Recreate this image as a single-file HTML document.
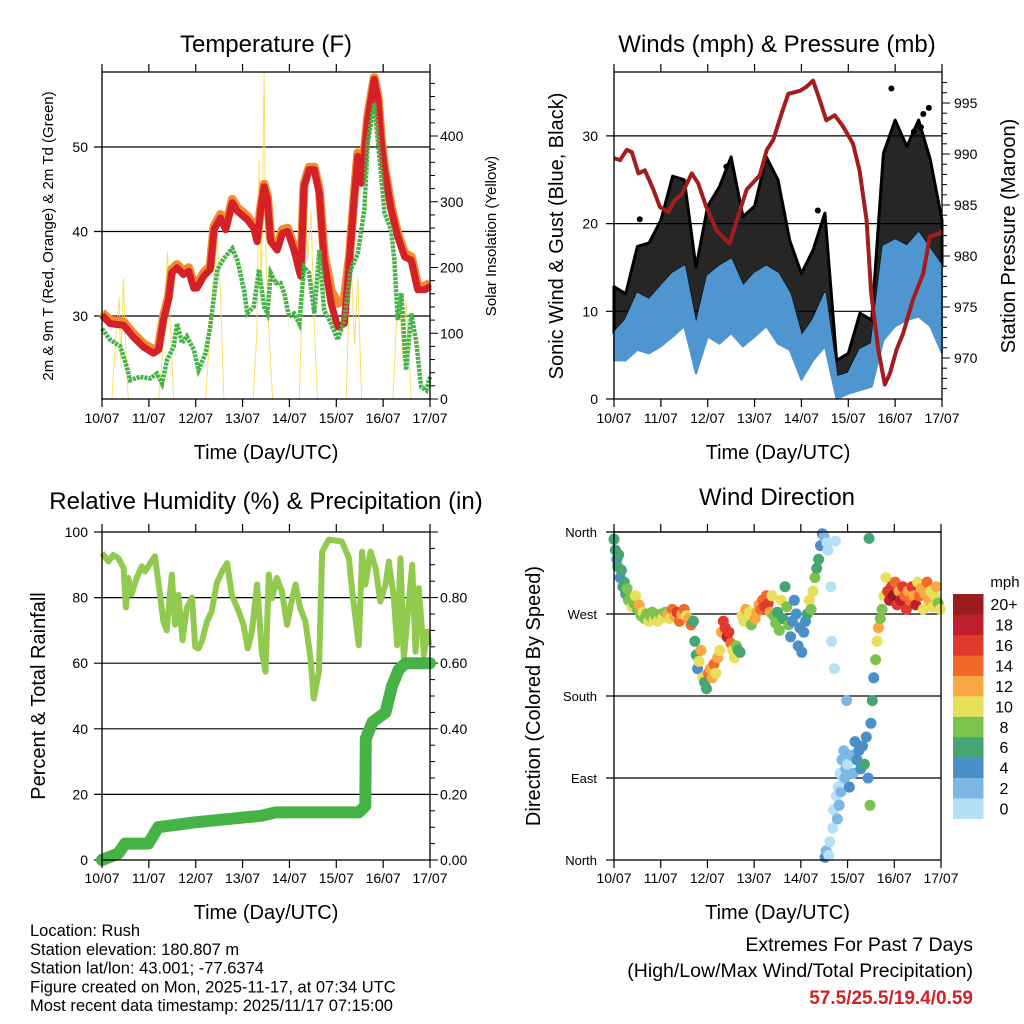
<!DOCTYPE html>
<html><head><meta charset="utf-8"><style>
html,body{margin:0;padding:0;background:#fff}
svg{display:block;font-family:"Liberation Sans",Arial,sans-serif}
</style></head><body>
<svg id="fig" width="1024" height="1024" viewBox="0 0 1024 1024" xmlns="http://www.w3.org/2000/svg"></svg>
<script>
// ---------- DATA ----------
const dayLabels = ["10/07","11/07","12/07","13/07","14/07","15/07","16/07","17/07"];
const tempT = [0,0.17,0.46,0.67,0.89,1.1,1.21,1.31,1.42,1.49,1.6,1.74,1.85,1.96,2.03,2.17,2.31,2.39,2.53,2.64,2.78,2.89,3.1,3.24,3.31,3.39,3.46,3.53,3.6,3.74,3.85,3.96,4.1,4.24,4.31,4.42,4.53,4.64,4.74,4.89,5.03,5.17,5.28,5.39,5.46,5.54,5.67,5.81,5.89,5.96,6.03,6.17,6.31,6.46,6.6,6.74,6.89,7.0];
const temp2m = [30.1,29.1,28.9,27.5,26.3,25.6,26.0,29.5,31.9,35.1,35.7,34.9,35.3,33.3,33.3,34.7,35.5,40.2,41.6,40.2,43.4,42.4,41.4,40.4,38.8,42.6,45.3,43.8,38.8,37.8,39.8,40.0,37.8,34.7,45.3,47.3,47.3,44.5,36.6,31.5,28.7,29.1,36.6,44.5,48.9,45.7,53.2,58.0,55.6,50.5,47.3,42.6,39.4,37.0,36.6,33.1,33.1,33.5];
const temp9m = [30.4,29.5,29.3,27.9,26.7,26.0,26.4,29.9,32.3,35.5,36.1,35.3,35.7,33.7,33.7,35.1,35.9,40.6,42.0,40.6,43.8,42.8,41.8,40.8,39.2,43.0,45.6,44.2,39.2,38.2,40.2,40.4,38.2,35.1,45.6,47.6,47.6,44.9,37.4,33.0,31.5,32.0,37.0,44.9,49.3,46.1,53.6,58.2,56.0,50.9,47.7,43.0,39.8,37.4,37.0,33.5,33.5,33.9];
const dewT = [0,0.17,0.39,0.53,0.6,0.81,1.03,1.17,1.28,1.39,1.53,1.6,1.71,1.81,1.96,2.06,2.21,2.31,2.46,2.6,2.78,2.89,3.03,3.1,3.24,3.35,3.46,3.53,3.6,3.71,3.81,3.89,3.99,4.1,4.21,4.31,4.42,4.53,4.64,4.74,4.89,5.03,5.17,5.31,5.46,5.6,5.67,5.81,5.96,6.03,6.17,6.24,6.31,6.39,6.49,6.6,6.71,6.81,6.92,7.0];
const dewV = [28.5,27.2,26.4,24.0,22.4,22.8,22.6,23.2,22.0,24.8,26.4,29.1,26.8,27.6,26.0,23.6,25.6,28.7,35.5,36.8,38.0,36.6,33.1,30.3,31.1,35.5,31.1,30.3,35.1,33.9,33.9,32.7,29.9,30.3,29.1,35.8,35.1,30.3,37.8,30.7,29.1,27.2,29.5,35.5,37.4,42.6,50.5,55.2,46.5,42.2,40.2,36.6,29.5,32.7,23.6,30.3,26.8,21.6,21.2,22.8];
const solarT = [0,0.21,0.31,0.37,0.4,0.46,0.49,0.56,1.21,1.28,1.35,1.4,1.46,1.53,2.21,2.31,2.4,2.46,2.53,2.6,3.23,3.31,3.35,3.4,3.46,3.5,3.56,3.64,4.21,4.28,4.33,4.39,4.46,4.53,4.6,5.21,5.28,5.31,5.39,5.46,5.54,6.21,6.28,6.35,6.42,6.49,6.6,7.0];
const solarV = [0,0,110,155,60,185,100,0,0,60,150,223,110,0,0,110,210,241,160,0,0,110,362,160,496,210,110,0,0,160,317,210,286,110,0,0,160,216,84,185,0,0,110,160,60,150,0,0];
const windT = [0,0.25,0.5,0.75,1,1.25,1.5,1.75,2,2.25,2.5,2.75,3,3.25,3.5,3.75,4,4.25,4.5,4.75,5,5.25,5.5,5.75,6,6.25,6.5,6.75,7];
const windLo = [4.4,4.4,5.6,5.2,6,7.1,8.3,2.9,7.1,6.3,7.5,6,7.1,8.3,6.3,5.6,2.2,4.4,6,0,0.6,1,1.4,6.7,8.3,9,9.4,8.3,5.2];
const windHi = [7.5,9,12,11.3,12.8,14.3,15.1,8.3,14,15.1,15.9,12.8,14.3,15.1,14.3,12,7.1,9,12,2.5,2.9,5.6,6.3,17.4,18.1,17.4,18.9,17,15.1];
const gustHi = [12.8,12,17.4,17.8,20.4,25.4,25,15,22,24.2,27.6,20.8,22,27.6,25,18.1,14.3,17,21.2,4.4,5.2,9.8,9,28,31.8,28.8,31.8,27.3,20.4];
const gustOutT = [5.92,6.72,6.6,6.4,6.55,0.55,2.4,4.35];
const gustOutV = [35.4,33.2,32.5,30.5,31.0,20.5,26.5,21.5];
const presT = [0,0.13,0.27,0.38,0.52,0.66,0.84,0.98,1.16,1.3,1.44,1.66,1.8,1.97,2.19,2.47,2.62,2.83,3.11,3.26,3.4,3.58,3.72,3.97,4.11,4.25,4.39,4.53,4.71,4.89,5.1,5.24,5.39,5.49,5.64,5.78,5.89,6.03,6.17,6.38,6.6,6.74,6.95,7.0];
const presV = [989.6,989.4,990.4,990.2,988.1,988.4,986.5,984.8,984.3,985.5,986.0,988.1,987.1,984.8,982.5,981.2,983.5,986.5,987.9,990.4,991.4,994.0,995.9,996.2,996.6,997.2,995.3,993.3,993.8,992.7,991.0,988.4,983.5,976.3,970.8,967.4,968.5,970.8,972.4,975.7,978.3,981.9,982.2,982.5];
const rhT = [0,0.14,0.24,0.35,0.46,0.51,0.56,0.63,0.74,0.85,0.92,1.03,1.13,1.24,1.31,1.38,1.49,1.56,1.63,1.72,1.81,1.92,1.99,2.06,2.13,2.24,2.34,2.45,2.56,2.67,2.77,2.92,3.02,3.11,3.2,3.31,3.41,3.49,3.56,3.63,3.73,3.84,3.95,4.06,4.13,4.23,4.34,4.45,4.52,4.63,4.7,4.84,5.12,5.27,5.34,5.48,5.55,5.62,5.73,5.84,5.94,6.05,6.12,6.23,6.3,6.37,6.44,6.55,6.62,6.69,6.76,6.87,6.94,6.98];
const rhV = [93.6,91,93,92,89,77,86,81,86,89.5,88,90.5,92.6,80.8,72.7,70,87,71.7,80.8,67,76.8,80,65,64.5,66.6,72.7,75.7,84.4,88,90.5,80.8,75.7,71.7,64.5,69.6,84,63.5,57.4,87,79.8,86,81.9,71.7,79.8,84,76.8,72.7,61.5,49.2,57.4,94,97.7,97.1,92,81.9,65.5,94,84,94,89,78.8,84,91,79.8,65.5,92,61.5,78.8,90,63.5,82.9,62.5,69.6,65.5];
const rainT = [0,0.35,0.49,0.99,1.2,1.99,3.41,3.7,5.48,5.62,5.63,5.77,6.05,6.19,6.33,6.48,7.0];
const rainV = [0,0.02,0.05,0.05,0.10,0.115,0.135,0.145,0.145,0.165,0.37,0.42,0.45,0.53,0.58,0.60,0.60];
const dirT = [0,0.03,0.06,0.08,0.10,0.13,0.16,0.19,0.22,0.25,0.28,0.31,0.35,0.38,0.42,0.46,0.50,0.54,0.58,0.62,0.66,0.70,0.74,0.78,0.82,0.86,0.90,0.94,1.00,1.05,1.10,1.15,1.20,1.25,1.30,1.35,1.40,1.45,1.50,1.55,1.60,1.65,1.70,1.73,1.76,1.79,1.82,1.86,1.90,1.94,1.98,2.02,2.06,2.10,2.14,2.18,2.22,2.26,2.30,2.34,2.38,2.42,2.46,2.50,2.54,2.58,2.62,2.66,2.70,2.74,2.78,2.82,2.86,2.90,2.94,2.98,3.02,3.06,3.10,3.14,3.18,3.22,3.26,3.30,3.34,3.38,3.42,3.46,3.50,3.54,3.58,3.62,3.66,3.70,3.74,3.78,3.82,3.86,3.90,3.94,3.98,4.02,4.06,4.10,4.14,4.18,4.22,4.26,4.30,4.34,4.38,4.42,4.46,4.50,4.52,4.54,4.56,4.58,4.60,4.62,4.64,4.66,4.68,4.70,4.72,4.74,4.76,4.78,4.80,4.82,4.84,4.86,4.88,4.90,4.92,4.94,4.96,4.98,5.00,5.04,5.08,5.12,5.16,5.20,5.24,5.28,5.32,5.36,5.40,5.44,5.46,5.48,5.50,5.53,5.56,5.60,5.63,5.66,5.70,5.74,5.78,5.82,5.86,5.90,5.94,5.98,6.02,6.06,6.10,6.14,6.18,6.22,6.26,6.30,6.34,6.38,6.42,6.46,6.50,6.54,6.58,6.62,6.66,6.70,6.74,6.78,6.82,6.86,6.90,6.94,6.98];
const dirD = [352,340,330,322,335,310,318,300,305,292,298,285,288,278,282,290,275,280,268,272,265,270,262,268,272,264,268,262,270,266,272,270,265,275,268,272,262,270,275,268,265,258,262,240,225,210,218,230,200,195,188,205,210,200,215,205,222,230,250,262,255,245,250,238,230,222,235,230,228,268,262,275,265,272,258,270,265,272,280,275,285,278,290,282,272,290,268,260,272,252,285,265,300,278,258,245,262,285,270,235,255,228,250,262,270,285,275,295,310,320,330,345,358,355,3,10,348,340,5,20,300,240,35,55,210,350,70,45,80,60,95,75,110,85,120,90,100,175,105,80,115,95,130,110,120,100,125,105,135,90,353,60,150,175,200,220,240,255,265,275,290,310,295,285,300,290,305,280,295,285,300,290,275,295,285,300,290,280,305,290,298,275,292,305,285,295,278,290,300,282,275];
const dirS = [6,6,4,6,6,4,6,6,6,6,8,8,8,10,8,10,8,12,8,10,8,8,10,8,8,10,8,10,8,10,8,12,10,14,12,16,14,12,14,10,12,14,6,6,6,4,10,12,10,6,6,14,12,12,14,10,12,10,12,16,16,18,16,14,10,10,8,6,6,10,10,12,10,10,8,10,12,12,12,14,14,16,14,16,12,10,8,8,6,8,10,6,6,8,8,4,4,4,4,4,4,4,4,4,6,10,8,10,8,6,6,4,4,2,4,2,0,0,0,0,0,0,0,0,0,0,0,2,0,2,0,2,2,0,2,2,2,2,0,4,2,2,4,4,4,4,4,6,4,4,6,8,4,6,4,8,10,12,8,8,10,10,16,18,16,20,14,16,12,18,16,14,16,12,14,16,12,18,10,14,12,10,12,14,12,10,10,10,12,8,10,12];
const speedColors = ["#b6e0f7","#7db8e4","#4a8fc8","#45a673","#7bc24e","#e8e05a","#f9a944","#f26a2b","#e03a2c","#bf1e2d","#9b1c1f"];
const speedLabels = ["0","2","4","6","8","10","12","14","16","18","20+"];

// ---------- HELPERS ----------
const NS="http://www.w3.org/2000/svg";
const svg=document.getElementById('fig');
function mk(tag,attrs,parent){const e=document.createElementNS(NS,tag);for(const k in attrs)e.setAttribute(k,attrs[k]);(parent||svg).appendChild(e);return e;}
function txt(x,y,s,size,anchor,parent,extra){const e=mk('text',Object.assign({x:x,y:y,'font-size':size,'text-anchor':anchor||'middle',fill:'#000'},extra||{}),parent);e.textContent=s;return e;}
function pathD(ts,vs,fx,fy){let d='';for(let i=0;i<ts.length;i++){d+=(i?'L':'M')+fx(ts[i]).toFixed(1)+','+fy(vs[i]).toFixed(1);}return d;}
function panel(name,x0,x1,y0,y1){
  const g=mk('g',{});
  
  
  const fx=t=>x0+(x1-x0)*t/7;
  return {g,x0,x1,y0,y1,fx};
}
function frame(p){
  const r=mk('rect',{x:p.x0,y:p.y0,width:p.x1-p.x0,height:p.y1-p.y0,fill:'none',stroke:'#000','stroke-width':1.3},p.g);
  
  
}
function xaxis(p,labelY,titleY){
  const g=mk('g',{},p.g);
  
  
  for(let i=0;i<dayLabels.length;i++){
    const x=p.fx(i);
    mk('line',{x1:x,x2:x,y1:p.y1,y2:p.y1+8,stroke:'#000','stroke-width':1.2},g);
    mk('line',{x1:x,x2:x,y1:p.y0,y2:p.y0-8,stroke:'#000','stroke-width':1.2},g);
    const t=txt(x,labelY,dayLabels[i],14,'middle',g);
    
    
  }
  const tt=txt((p.x0+p.x1)/2,titleY,'Time (Day/UTC)',20,'middle',g);
  
  
}
function hgrid(p,ys){
  ys.forEach(y=>{
    const l=mk('line',{x1:p.x0-8,x2:p.x1,y1:y,y2:y,stroke:'#000','stroke-width':1.2},p.g);
    
    
  });
}
function rightTicks(p,ys,len){
  ys.forEach(y=>mk('line',{x1:p.x1,x2:p.x1+len,y1:y,y2:y,stroke:'#000','stroke-width':1},p.g));
}

// ---------- TITLES ----------
[[266,52,'Temperature (F)','temperature-title'],[777,52,'Winds (mph) & Pressure (mb)','winds-title'],[266,509,'Relative Humidity (%) & Precipitation (in)','humidity-title'],[777,505,'Wind Direction','direction-title']].forEach(a=>{
  const t=txt(a[0],a[1],a[2],24,'middle');
  
  
});

// ---------- TEMPERATURE PANEL ----------
(function(){
  const p=panel('temperature-panel',102,430,72,399);
  const fy=v=>316-(v-30)*8.45;
  const fs=v=>399-v*0.6575;
  hgrid(p,[fy(30),fy(40),fy(50)]);
  [30,40,50].forEach(v=>{const t=txt(88,fy(v)+5,String(v),14,'end',p.g);
    
    });
  for(let v=0;v<=480;v+=20){rightTicks(p,[fs(v)],v%100===0?8:5);}
  [0,100,200,300,400].forEach(v=>{const t=txt(440,fs(v)+5,String(v),14,'start',p.g);
    
    });
  const s=mk('path',{d:pathD(solarT,solarV,p.fx,fs),fill:'none',stroke:'#f7dc4a','stroke-width':1,'stroke-opacity':0.85},p.g);
  
  
  const o=mk('path',{d:pathD(tempT,temp9m,p.fx,fy),fill:'none',stroke:'#f28a30','stroke-width':9,'stroke-linejoin':'round'},p.g);
  
  
  const r=mk('path',{d:pathD(tempT,temp2m,p.fx,fy),fill:'none',stroke:'#d42027','stroke-width':7,'stroke-linejoin':'round'},p.g);
  
  
  const gr=mk('path',{d:pathD(dewT,dewV,p.fx,fy),fill:'none',stroke:'#46b346','stroke-width':4.5,'stroke-dasharray':'3,1'},p.g);
  
  
  frame(p);
  xaxis(p,423,459);
  const a=txt(0,0,'2m & 9m T (Red, Orange) & 2m Td (Green)',15,'middle',p.g,{transform:'translate(53,236) rotate(-90)'});
  
  
  const b=txt(0,0,'Solar Insolation (Yellow)',15,'middle',p.g,{transform:'translate(496,236) rotate(-90)'});
  
  
})();

// ---------- WIND PANEL ----------
(function(){
  const p=panel('winds-panel',614,942,72,399);
  const fy=v=>399-v*8.77;
  const fp=v=>358-(v-970)*10.2;
  hgrid(p,[fy(10),fy(20),fy(30)]);
  mk('line',{x1:p.x0-8,x2:p.x0,y1:fy(0),y2:fy(0),stroke:'#000','stroke-width':1.2},p.g);
  [0,10,20,30].forEach(v=>{const t=txt(598,fy(v)+5,String(v),14,'end',p.g);
    
    });
  for(let v=967;v<=997;v++){rightTicks(p,[fp(v)],v%5===0?8:5);}
  [970,975,980,985,990,995].forEach(v=>{const t=txt(954,fp(v)+5,String(v),14,'start',p.g);
    
    });
  let d='';
  for(let i=0;i<windT.length;i++)d+=(i?'L':'M')+p.fx(windT[i]).toFixed(1)+','+fy(windHi[i]).toFixed(1);
  for(let i=windT.length-1;i>=0;i--)d+='L'+p.fx(windT[i]).toFixed(1)+','+fy(gustHi[i]).toFixed(1);
  const ga=mk('path',{d:d+'Z',fill:'#000','fill-opacity':0.85,stroke:'#000','stroke-width':3,'stroke-linejoin':'round'},p.g);
  
  
  for(let i=0;i<gustOutT.length;i++){
    const c=mk('circle',{cx:p.fx(gustOutT[i]),cy:fy(gustOutV[i]),r:3,fill:'#000'},p.g);
    
    
  }
  d='';
  for(let i=0;i<windT.length;i++)d+=(i?'L':'M')+p.fx(windT[i]).toFixed(1)+','+fy(windHi[i]).toFixed(1);
  for(let i=windT.length-1;i>=0;i--)d+='L'+p.fx(windT[i]).toFixed(1)+','+fy(windLo[i]).toFixed(1);
  const wa=mk('path',{d:d+'Z',fill:'#4f96d0',stroke:'#4f96d0','stroke-width':2,'stroke-linejoin':'round'},p.g);
  
  
  const pr=mk('path',{d:pathD(presT,presV,p.fx,fp),fill:'none',stroke:'#a31d1d','stroke-width':4,'stroke-linejoin':'round'},p.g);
  
  
  frame(p);
  xaxis(p,423,459);
  const a=txt(0,0,'Sonic Wind & Gust (Blue, Black)',20,'middle',p.g,{transform:'translate(563,236) rotate(-90)'});
  
  
  const b=txt(0,0,'Station Pressure (Maroon)',20,'middle',p.g,{transform:'translate(1015,236) rotate(-90)'});
  
  
})();

// ---------- RH PANEL ----------
(function(){
  const p=panel('humidity-panel',102,430,532,860);
  const fy=v=>860-v*3.28;
  const fr=v=>860-v*328;
  hgrid(p,[fy(20),fy(40),fy(60),fy(80)]);
  [0,100].forEach(v=>mk('line',{x1:p.x0-8,x2:p.x0,y1:fy(v),y2:fy(v),stroke:'#000','stroke-width':1.2},p.g));
  [0,20,40,60,80,100].forEach(v=>{const t=txt(88,fy(v)+5,String(v),14,'end',p.g);
    
    });
  for(let v=0;v<=100;v+=5){rightTicks(p,[fr(v/100)],v%20===0?8:5);}
  [0,0.2,0.4,0.6,0.8].forEach(v=>{const t=txt(440,fr(v)+5,v.toFixed(2),14,'start',p.g);
    
    });
  const rh=mk('path',{d:pathD(rhT,rhV,p.fx,fy),fill:'none',stroke:'#92c94f','stroke-width':6,'stroke-linejoin':'round'},p.g);
  
  
  const rn=mk('path',{d:pathD(rainT,rainV,p.fx,fr),fill:'none',stroke:'#46b346','stroke-width':12,'stroke-linejoin':'round','stroke-linecap':'round'},p.g);
  
  
  frame(p);
  xaxis(p,883,919);
  const a=txt(0,0,'Percent & Total Rainfall',20,'middle',p.g,{transform:'translate(45,696) rotate(-90)'});
  
  
})();

// ---------- WIND DIRECTION PANEL ----------
(function(){
  const p=panel('direction-panel',614,941,532,860);
  const fy=v=>860-v*328/360;
  hgrid(p,[fy(360),fy(270),fy(180),fy(90)]);
  mk('line',{x1:p.x0-8,x2:p.x0,y1:fy(0),y2:fy(0),stroke:'#000','stroke-width':1.2},p.g);
  [['North',360],['West',270],['South',180],['East',90],['North',0]].forEach(a=>{
    const t=txt(597,fy(a[1])+5,a[0],13,'end',p.g);
    
    });
  for(let i=0;i<dirT.length;i++){
    const idx=Math.min(10,Math.round(dirS[i]/2));
    const c=mk('circle',{cx:p.fx(dirT[i]).toFixed(1),cy:fy(dirD[i]).toFixed(1),r:5.5,fill:speedColors[idx]},p.g);
    
    
  }
  frame(p);
  xaxis(p,883,919);
  const a=txt(0,0,'Direction (Colored By Speed)',20,'middle',p.g,{transform:'translate(540,696) rotate(-90)'});
  
  
  const cb=mk('g',{});
  
  
  const bh=(818.7-594)/11;
  for(let i=0;i<11;i++){
    const y=818.7-(i+1)*bh;
    const r=mk('rect',{x:953,y:y.toFixed(1),width:30.5,height:(bh+0.3).toFixed(1),fill:speedColors[i]},cb);
    
    
    const t=txt(1004,y+bh/2+6,speedLabels[i],16,'middle',cb);
    
    
  }
  const m=txt(1005,587,'mph',15,'middle',cb);
  
  
})();

// ---------- FOOTER ----------
(function(){
  const g=mk('g',{});
  
  
  ['Location: Rush','Station elevation: 180.807 m','Station lat/lon: 43.001; -77.6374','Figure created on Mon, 2025-11-17, at 07:34 UTC','Most recent data timestamp: 2025/11/17 07:15:00'].forEach((s,i)=>{
    const t=txt(30,936+i*18.8,s,16.5,'start',g);
    
    
  });
  const h=mk('g',{});
  
  
  const a=txt(973,951,'Extremes For Past 7 Days',19.5,'end',h);
  
  
  const b=txt(973,977,'(High/Low/Max Wind/Total Precipitation)',19.5,'end',h);
  
  
  const c=txt(973,1004,'57.5/25.5/19.4/0.59',19,'end',h,{fill:'#d42027','font-weight':'bold'});
  
  
})();
</script>
</body></html>
